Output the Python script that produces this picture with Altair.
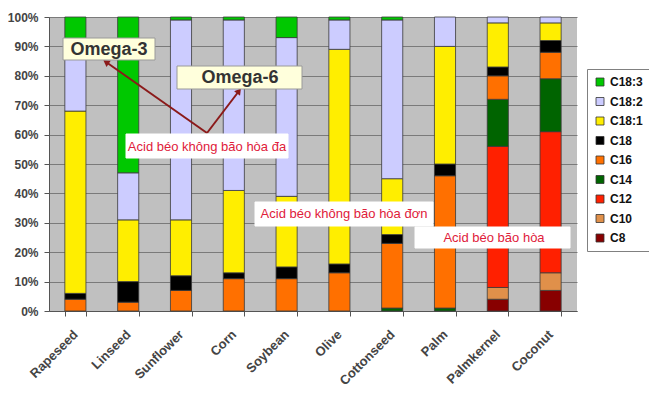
import altair as alt
import pandas as pd

# Oils shown on the x axis
oils = ["Rapeseed", "Linseed", "Sunflower", "Corn", "Soybean",
        "Olive", "Cottonseed", "Palm", "Palmkernel", "Coconut"]

# Fatty acid share (%) of each oil, listed per fatty acid
c8 = [0, 0, 0, 0, 0, 0, 0, 0, 4, 7]
c10 = [0, 0, 0, 0, 0, 0, 0, 0, 4, 6]
c12 = [0, 0, 0, 0, 0, 0, 0, 0, 48, 48]
c14 = [0, 0, 0, 0, 0, 0, 1, 1, 16, 18]
c16 = [4, 3, 7, 11, 11, 13, 22, 45, 8, 9]
c18 = [2, 7, 5, 2, 4, 3, 3, 4, 3, 4]
c18_1 = [62, 21, 19, 28, 24, 73, 19, 40, 15, 6]
c18_2 = [23, 16, 68, 58, 54, 10, 54, 10, 2, 2]
c18_3 = [9, 53, 1, 1, 7, 1, 1, 0, 0, 0]

# Stacking order, bottom to top
acids = ["C8", "C10", "C12", "C14", "C16", "C18", "C18:1", "C18:2", "C18:3"]
series = [c8, c10, c12, c14, c16, c18, c18_1, c18_2, c18_3]
colors = {
    "C18:3": "#00C800",
    "C18:2": "#CCCCFF",
    "C18:1": "#FFEE00",
    "C18": "#000000",
    "C16": "#FF7000",
    "C14": "#006400",
    "C12": "#FF2000",
    "C10": "#E0904A",
    "C8": "#880000",
}
legend_order = acids[::-1]

rows = []
for k, (acid, vals) in enumerate(zip(acids, series)):
    for oil, v in zip(oils, vals):
        if v > 0:
            rows.append({"oil": oil, "acid": acid, "pct": v, "idx": k})
df = pd.DataFrame(rows)

FONT = "Liberation Sans"

bars = alt.Chart(df).mark_bar(stroke="#3a3a3a", strokeWidth=0.8).encode(
    x=alt.X("oil:N", sort=oils, title=None,
            scale=alt.Scale(paddingInner=0.6, paddingOuter=0.3),
            axis=alt.Axis(labelAngle=-45, labelAlign="right", labelBaseline="middle",
                          labelPadding=16, tickBand="extent", tickSize=5,
                          tickColor="#555555", domainColor="#555555",
                          labelFont=FONT, labelFontSize=13, labelFontWeight="bold",
                          labelColor="#444444", grid=False)),
    y=alt.Y("pct:Q", stack=True, title=None,
            scale=alt.Scale(domain=[0, 100], nice=False),
            axis=alt.Axis(values=list(range(0, 101, 10)), labelExpr="datum.value + '%'",
                          tickSize=5, tickColor="#555555", domainColor="#555555",
                          labelPadding=6, labelFont=FONT, labelFontSize=12,
                          labelFontWeight="bold", labelColor="#444444",
                          grid=True, gridColor="#7a7a7a", gridWidth=1)),
    color=alt.Color("acid:N",
                    scale=alt.Scale(domain=legend_order,
                                    range=[colors[a] for a in legend_order]),
                    legend=alt.Legend(title=None, orient="none", legendX=538, legendY=52,
                                      direction="vertical", symbolType="square",
                                      symbolSize=64, symbolStrokeColor="#333333",
                                      symbolStrokeWidth=0.8, labelFont=FONT,
                                      labelFontSize=12, labelFontWeight="bold",
                                      labelColor="#111111", rowPadding=7.5,
                                      padding=7, strokeColor="#808080",
                                      fillColor="#ffffff", labelOffset=4)),
    order=alt.Order("idx:Q", sort="ascending"),
)

one = pd.DataFrame({"k": [0]})


def label_box(x1, y1, x2, y2, text, fill, stroke, color, size, weight, cx, cy):
    box = alt.Chart(one).mark_rect(fill=fill, stroke=stroke, strokeWidth=1).encode(
        x=alt.value(x1), x2=alt.value(x2), y=alt.value(y1), y2=alt.value(y2))
    txt = alt.Chart(one).mark_text(text=text, font=FONT, fontSize=size, fontWeight=weight,
                                   color=color, align="center", baseline="middle").encode(
        x=alt.value(cx), y=alt.value(cy))
    return box + txt


def arrow(x1, y1, x2, y2, angle):
    line = alt.Chart(one).mark_rule(color="#8B1A1A", strokeWidth=2).encode(
        x=alt.value(x1), y=alt.value(y1), x2=alt.value(x2), y2=alt.value(y2))
    head = alt.Chart(one).mark_point(shape="triangle-up", filled=True, color="#8B1A1A",
                                     opacity=1, size=55, angle=angle).encode(
        x=alt.value(x2), y=alt.value(y2))
    return line + head


# Annotation positions are in plot pixels (origin at the plot's top-left corner)
ox, oy = 49, 17
omega3 = label_box(63 - ox, 38 - oy, 155 - ox, 60 - oy, "Omega-3", "#FFFFDC", "#9a9a9a",
                   "#333333", 18, "bold", 109 - ox, 49.5 - oy)
omega6 = label_box(177 - ox, 66 - oy, 302 - ox, 89 - oy, "Omega-6", "#FFFFDC", "#9a9a9a",
                   "#333333", 18, "bold", 240 - ox, 77.5 - oy)
arrow3 = arrow(207 - ox, 133 - oy, 106 - ox, 62 - oy, 305)
arrow6 = arrow(207 - ox, 133 - oy, 239 - ox, 91 - oy, 37)
poly = label_box(126 - ox, 134 - oy, 288 - ox, 158 - oy, "Acid béo không bão hòa đa",
                 "#ffffff", "#ffffff", "#E0203A", 13, "normal", 207 - ox, 146.5 - oy)
mono = label_box(255 - ox, 202 - oy, 433 - ox, 226 - oy, "Acid béo không bão hòa đơn",
                 "#ffffff", "#ffffff", "#E0203A", 13, "normal", 344 - ox, 214 - oy)
sat = label_box(415 - ox, 227 - oy, 570 - ox, 248 - oy, "Acid béo bão hòa",
                "#ffffff", "#ffffff", "#E0203A", 13, "normal", 494 - ox, 238 - oy)

chart = alt.layer(bars, arrow3, arrow6, omega3, omega6, poly, mono, sat).properties(
    width=528, height=294,
    padding={"left": 49, "top": 17, "right": 72, "bottom": 85},
    autosize="none",
    background="#ffffff",
).configure_view(fill="#C0C0C0", stroke=None)

chart.save("out.html", embed_options={"renderer": "svg", "actions": False})
